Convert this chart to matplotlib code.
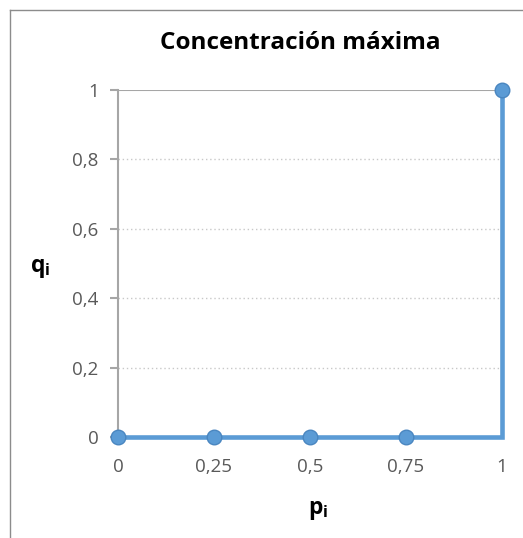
import matplotlib.pyplot as plt
from matplotlib.lines import Line2D

# Lorenz-style curve at maximum concentration
p = [0, 0.25, 0.5, 0.75, 1, 1]
q = [0, 0, 0, 0, 0, 1]
marked = [0, 1, 2, 3, 5]

x_ticks = [0, 0.25, 0.5, 0.75, 1]
x_labels = ["0", "0,25", "0,5", "0,75", "1"]
y_ticks = [0, 0.2, 0.4, 0.6, 0.8, 1]
y_labels = ["0", "0,2", "0,4", "0,6", "0,8", "1"]

plt.rcParams['font.family'] = ['Open Sans', 'DejaVu Sans']
plt.rcParams['mathtext.fontset'] = 'custom'
plt.rcParams['mathtext.rm'] = 'Open Sans'
plt.rcParams['mathtext.bf'] = 'Open Sans:bold'

W, H = 523, 538
fig = plt.figure(figsize=(W / 100, H / 100), dpi=100)
ax = fig.add_axes([118 / W, 1 - 437 / H, (502 - 118) / W, (437 - 90) / H])

blue = '#5B9BD5'
grey = '#595959'

# outer chart frame
fig.add_artist(Line2D([10 / W, 10 / W], [0, 1 - 10 / H], color='#8c8c8c', lw=1))
fig.add_artist(Line2D([10 / W, 1], [1 - 10 / H, 1 - 10 / H], color='#8c8c8c', lw=1))

for yv in y_ticks[1:-1]:
    ax.axhline(yv, color='#c8c8c8', lw=1, ls=(0, (1, 2)), zorder=1)
ax.axhline(1, color='#a6a6a6', lw=1.5, zorder=1)

ax.plot(p, q, color=blue, lw=3.3, marker='o', markersize=10.5,
        markevery=marked, markerfacecolor=blue, markeredgecolor='#4a86c0',
        solid_joinstyle='miter', clip_on=False, zorder=3)

ax.set_xlim(0, 1)
ax.set_ylim(0, 1)
ax.set_xticks(x_ticks, x_labels)
ax.set_yticks(y_ticks, y_labels)

for s in ['top', 'right', 'bottom']:
    ax.spines[s].set_visible(False)
ax.spines['left'].set_color('#a6a6a6')
ax.spines['left'].set_linewidth(1.5)

ax.tick_params(axis='y', colors='#a6a6a6', length=6, width=1.5, pad=8,
               labelcolor=grey, labelsize=13.5)
ax.tick_params(axis='x', length=0, pad=15, labelcolor=grey, labelsize=13.5)

fig.text(300 / W, 1 - 43 / H, "Concentración máxima", ha='center', va='center',
         fontsize=17.5, fontweight='bold', color='black')
fig.text(40 / W, 1 - 268 / H, r"$\mathbf{q_i}$", ha='center', va='center',
         fontsize=16.5, color='black')
fig.text(318 / W, 1 - 510 / H, r"$\mathbf{p_i}$", ha='center', va='center',
         fontsize=16.5, color='black')

fig.savefig('out.png', dpi=100)
